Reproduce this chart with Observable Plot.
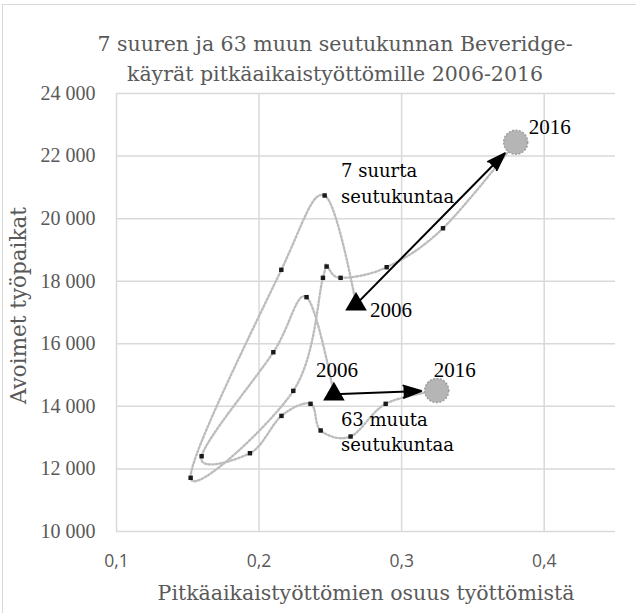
<!DOCTYPE html>
<html><head><meta charset="utf-8">
<script src="https://cdn.jsdelivr.net/npm/d3@7"></script>
<script src="https://cdn.jsdelivr.net/npm/@observablehq/plot@0.6"></script>
<style>
body{margin:0;background:#fff;}
#wrap{position:relative;width:636px;height:613px;overflow:hidden;}
#border{position:absolute;left:2px;top:4px;width:700px;height:700px;border:1.5px solid #d9d9d9;pointer-events:none;}
#wrap svg{position:absolute;left:0;top:0;}
#wrap g[aria-label="y-axis tick label"], #wrap g[aria-label="y-axis tick label"] text{font-family:"Liberation Serif",serif !important;font-size:20px !important;fill:#595959 !important;}
#wrap g[aria-label="x-axis tick label"], #wrap g[aria-label="x-axis tick label"] text{font-family:"Open Sans",sans-serif !important;font-size:17.5px !important;fill:#595959 !important;}
</style></head><body><div id="wrap"><div id="border"></div></div>
<script>
// ---- data ----
const seriesNames = ["7 suurta\nseutukuntaa", "63 muuta\nseutukuntaa"];
const bigX   = [0.268, 0.246, 0.2156, 0.152, 0.224, 0.2448, 0.2474, 0.2572, 0.2895, 0.329, 0.380];
const bigY   = [17260, 20740, 18364, 11716, 14495, 18108, 18469, 18108, 18447, 19693, 22442];
const otherX = [0.2525, 0.2333, 0.210, 0.1597, 0.1936, 0.2157, 0.2361, 0.2432, 0.2642, 0.2888, 0.3246];
const otherY = [14390, 17490, 15730, 12406, 12502, 13695, 14081, 13228, 13036, 14081, 14506];
const xTicks = [0.1, 0.2, 0.3, 0.4];
const yTicks = [10000, 12000, 14000, 16000, 18000, 20000, 22000, 24000];
const titleLines = ["7 suuren ja 63 muun seutukunnan Beveridge-", "käyrät pitkäaikaistyöttömille 2006-2016"];
const xLabel = "Pitkäaikaistyöttömien osuus työttömistä";
const yLabel = "Avoimet työpaikat";
const startYear = "2006", endYear = "2016";

// ---- build tables ----
const rows = [];
bigX.forEach((x, i) => rows.push({s: 0, i, n: bigX.length, x, y: bigY[i]}));
otherX.forEach((x, i) => rows.push({s: 1, i, n: otherX.length, x, y: otherY[i]}));
const inner = rows.filter(d => d.i > 0 && d.i < d.n - 1);
const starts = [rows.find(d => d.s === 0 && d.i === 0), rows.find(d => d.s === 1 && d.i === 0)];
const ends = [rows.find(d => d.s === 0 && d.i === d.n - 1), rows.find(d => d.s === 1 && d.i === d.n - 1)];
const arrows = [0, 1].map(k => ({x1: starts[k].x, y1: starts[k].y, x2: ends[k].x, y2: ends[k].y}));
const fmtY = d => d3.format(",")(d).replace(",", " ");
const fmtX = d => String(d).replace(".", ",");

const serif = "DejaVu Serif";
const numSerif = "Liberation Serif";
const grey = "#595959";

const chart = Plot.plot({
  width: 636, height: 613,
  marginLeft: 116, marginRight: 21, marginTop: 93, marginBottom: 82,
  x: {domain: [0.1, 0.45]},
  y: {domain: [10000, 24000]},
  style: {background: "transparent"},
  marks: [
    Plot.gridY(yTicks, {stroke: "#d9d9d9", strokeOpacity: 1, strokeWidth: 1.5}),
    Plot.gridX(xTicks, {stroke: "#d9d9d9", strokeOpacity: 1, strokeWidth: 1.5}),
    Plot.axisY(yTicks, {tickSize: 0, tickPadding: 21, tickFormat: fmtY, label: null,
      fontSize: 20, fontFamily: numSerif, fill: grey}),
    Plot.axisX(xTicks, {tickSize: 0, tickPadding: 23, tickFormat: fmtX, label: null,
      fontSize: 17.5, fontFamily: "Open Sans", fill: grey}),
    Plot.line(rows, {x: "x", y: "y", z: "s", curve: "cardinal", tension: 0,
      stroke: "#bdbdbd", strokeWidth: 2.4, strokeDasharray: "1.6,2.2"}),
    Plot.dot(inner, {x: "x", y: "y", symbol: "square", r: 2.5, fill: "#1a1a1a"}),
    Plot.arrow(arrows, {x1: "x1", y1: "y1", x2: "x2", y2: "y2", stroke: "black", fill: "black",
      strokeWidth: 2, strokeLinejoin: "miter", headLength: 14, headAngle: 38, insetEnd: 15.5}),
    Plot.dot(starts, {x: "x", y: "y", symbol: "triangle", r: 8, fill: "black"}),
    Plot.dot(ends, {x: "x", y: "y", r: 12, fill: "#b5b5b5", stroke: "#9e9e9e",
      strokeWidth: 1.5, strokeDasharray: "2,1.5"}),
    // year labels
    Plot.text([ends[0]], {x: "x", y: "y", text: () => endYear, dx: 13, dy: -15,
      textAnchor: "start", fontFamily: numSerif, fontSize: 21, fill: "black"}),
    Plot.text([ends[1]], {x: "x", y: "y", text: () => endYear, dx: -3, dy: -20.5,
      textAnchor: "start", fontFamily: numSerif, fontSize: 21, fill: "black"}),
    Plot.text([starts[0]], {x: "x", y: "y", text: () => startYear, dx: 14, dy: 5.5,
      textAnchor: "start", fontFamily: numSerif, fontSize: 21, fill: "black"}),
    Plot.text([starts[1]], {x: "x", y: "y", text: () => startYear, dx: -18, dy: -23.5,
      textAnchor: "start", fontFamily: numSerif, fontSize: 21, fill: "black"}),
    // series labels
    Plot.text([starts[0]], {x: "x", y: "y", text: () => seriesNames[0], dx: -15, dy: -146,
      textAnchor: "start", lineAnchor: "top", lineHeight: 1.44, fontFamily: serif, fontSize: 18, fill: "black"}),
    Plot.text([starts[1]], {x: "x", y: "y", text: () => seriesNames[1], dx: 7, dy: 13,
      textAnchor: "start", lineAnchor: "top", lineHeight: 1.44, fontFamily: serif, fontSize: 18, fill: "black"}),
    // title and axis titles
    Plot.text([titleLines[0]], {frameAnchor: "top", dx: -31, dy: -49, lineAnchor: "middle",
      textAnchor: "middle", fontFamily: serif, fontSize: 20.5, fill: grey}),
    Plot.text([titleLines[1]], {frameAnchor: "top", dx: -31, dy: -19, lineAnchor: "middle",
      textAnchor: "middle", fontFamily: serif, fontSize: 20.5, fill: grey}),
    Plot.text([xLabel], {frameAnchor: "bottom", dy: 62, lineAnchor: "middle",
      textAnchor: "middle", fontFamily: serif, fontSize: 20.5, fill: grey}),
    Plot.text([yLabel], {frameAnchor: "left", dx: -97, dy: -7, rotate: -90, lineAnchor: "middle",
      textAnchor: "middle", fontFamily: serif, fontSize: 21.5, fill: grey})
  ]
});
document.getElementById("wrap").appendChild(chart);
</script>
</body></html>
